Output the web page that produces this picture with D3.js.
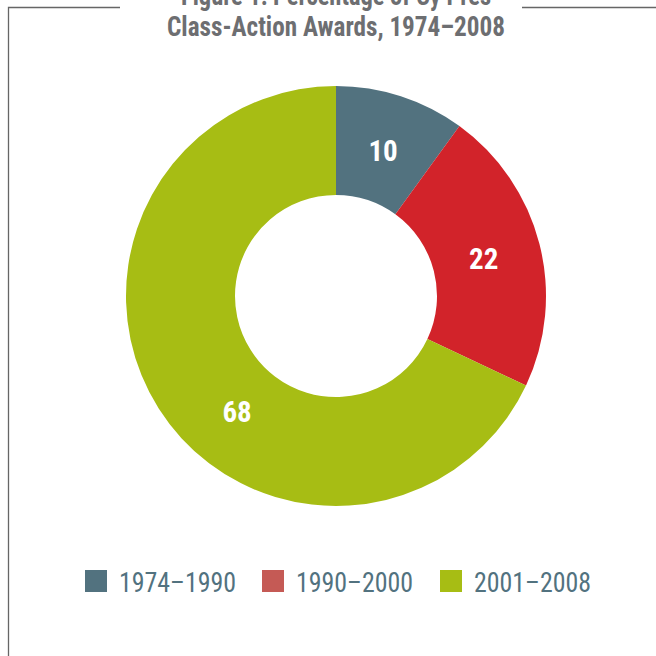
<!DOCTYPE html>
<html>
<head>
<meta charset="utf-8">
<script src="https://cdn.jsdelivr.net/npm/d3@7"></script>
<style>
  html, body { margin: 0; padding: 0; background: #fff; }
  svg { display: block; }
</style>
</head>
<body>
<svg id="chart" width="656" height="656"></svg>
<script>
// ---- data ----
const titleLines = ["Figure 1: Percentage of Cy Pres", "Class-Action Awards, 1974–2008"];
const categories = ["1974–1990", "1990–2000", "2001–2008"];
const values = [10, 22, 68];
const sliceColors = ["#52727f", "#d2232a", "#a7bd14"];
const legendColors = ["#52727f", "#c55a55", "#a7bd14"];

const svg = d3.select("#chart");
const W = 656, H = 656;
const cx = 336, cy = 296, outerR = 210, innerR = 101;
const condensed = "'Liberation Sans Narrow', 'Arial Narrow', 'Roboto Condensed', 'Liberation Sans', sans-serif";

// frame (open at the top where the title sits)
const frame = svg.append("g").attr("fill", "none").attr("stroke", "#666").attr("stroke-width", 1.3);
frame.append("path").attr("d", d3.line()([[120, 7.5], [8.5, 7.5], [8.5, H]]));
frame.append("path").attr("d", d3.line()([[522, 7.5], [W, 7.5]]));

// title
const titleWidths = [310, 338];
svg.append("g").selectAll("text").data(titleLines).join("text")
  .attr("x", 336)
  .attr("y", (d, i) => 5 + i * 30.5)
  .attr("text-anchor", "middle")
  .attr("font-family", condensed)
  .attr("font-weight", "bold")
  .attr("font-size", 27)
  .attr("fill", "#6d6e71")
  .attr("textLength", (d, i) => titleWidths[i])
  .attr("lengthAdjust", "spacingAndGlyphs")
  .text(d => d);

// donut
const color = d3.scaleOrdinal().domain(categories).range(sliceColors);
const pie = d3.pie().sort(null).value(d => d.value);
const arcs = pie(categories.map((c, i) => ({ cat: c, value: values[i] })));
const arc = d3.arc().innerRadius(innerR).outerRadius(outerR);

const g = svg.append("g").attr("transform", `translate(${cx},${cy})`);
g.selectAll("path").data(arcs).join("path")
  .attr("d", arc)
  .attr("fill", d => color(d.data.cat));

// labels: centroid, the largest slice's label sits nearer its start
const labelR = (innerR + outerR) / 2 - 3;
const labelArc = d3.arc().innerRadius(labelR).outerRadius(labelR);
g.selectAll("text").data(arcs).join("text")
  .attr("transform", d => {
    let a0 = d.startAngle, a1 = d.endAngle;
    if (d.data.value > 50) { a1 = a0 + (a1 - a0) * 0.86; }
    const c = labelArc.centroid({ startAngle: a0, endAngle: a1 });
    return `translate(${c[0]},${c[1]})`;
  })
  .attr("text-anchor", "middle")
  .attr("dy", "0.36em")
  .attr("font-family", condensed)
  .attr("font-weight", "bold")
  .attr("font-size", 29)
  .attr("fill", "#fff")
  .text(d => d.data.value);

// legend
const legendX = [85, 262, 440];
const leg = svg.append("g").selectAll("g").data(categories).join("g")
  .attr("transform", (d, i) => `translate(${legendX[i]},570)`);
leg.append("rect").attr("width", 22).attr("height", 22)
  .attr("fill", (d, i) => legendColors[i]);
leg.append("text")
  .attr("x", 34).attr("y", 22)
  .attr("font-family", condensed)
  .attr("font-size", 27)
  .attr("fill", "#52727f")
  .attr("textLength", 117)
  .attr("lengthAdjust", "spacingAndGlyphs")
  .text(d => d);
</script>
</body>
</html>
